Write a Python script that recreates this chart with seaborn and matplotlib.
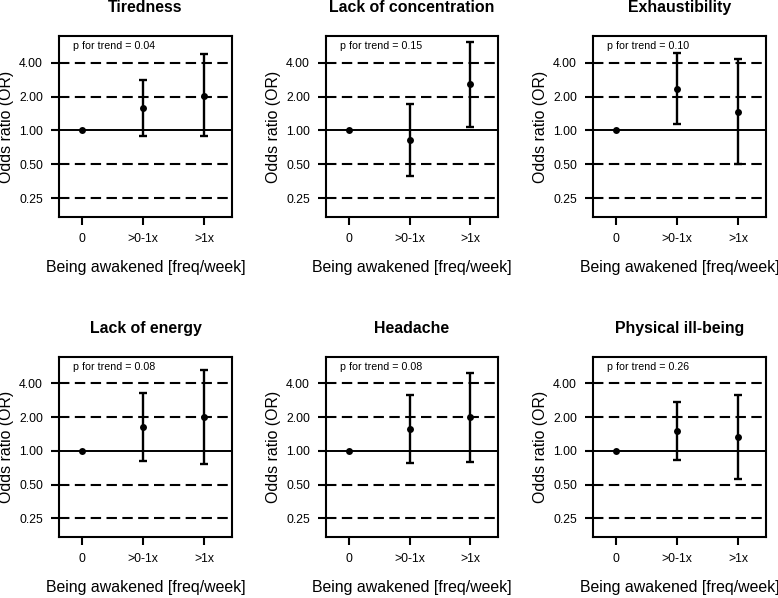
import numpy as np
import pandas as pd
import seaborn as sns
import matplotlib.pyplot as plt
from matplotlib.ticker import FixedLocator, FixedFormatter

categories = ['0', '>0-1x', '>1x']
outcomes = ['Tiredness', 'Lack of concentration', 'Exhaustibility',
            'Lack of energy', 'Headache', 'Physical ill-being']
p_trend = ['0.04', '0.15', '0.10', '0.08', '0.08', '0.26']

odds_ratio = {
    'Tiredness':             [1.0, 1.57, 2.04],
    'Lack of concentration': [1.0, 0.82, 2.57],
    'Exhaustibility':        [1.0, 2.34, 1.47],
    'Lack of energy':        [1.0, 1.63, 2.00],
    'Headache':              [1.0, 1.58, 1.99],
    'Physical ill-being':    [1.0, 1.51, 1.33],
}
ci_lower = {
    'Tiredness':             [1.0, 0.89, 0.89],
    'Lack of concentration': [1.0, 0.39, 1.08],
    'Exhaustibility':        [1.0, 1.15, 0.50],
    'Lack of energy':        [1.0, 0.82, 0.77],
    'Headache':              [1.0, 0.78, 0.80],
    'Physical ill-being':    [1.0, 0.83, 0.56],
}
ci_upper = {
    'Tiredness':             [1.0, 2.79, 4.73],
    'Lack of concentration': [1.0, 1.73, 6.10],
    'Exhaustibility':        [1.0, 4.88, 4.32],
    'Lack of energy':        [1.0, 3.26, 5.24],
    'Headache':              [1.0, 3.13, 4.93],
    'Physical ill-being':    [1.0, 2.71, 3.17],
}

y_ticks = [0.25, 0.5, 1.0, 2.0, 4.0]

sns.set_style('white')
plt.rcParams['font.family'] = ['Liberation Sans', 'DejaVu Sans']
plt.rcParams.update({'text.color': 'black', 'axes.labelcolor': 'black',
                     'xtick.color': 'black', 'ytick.color': 'black'})

W, H = 778, 598
fig = plt.figure(figsize=(W / 100, H / 100), dpi=100)

# axes boxes in pixels (left, right) per column and (top, bottom) per row
cols = [(59, 232), (326, 498), (593, 766)]
rows = [(36, 217), (357, 537)]

for i, name in enumerate(outcomes):
    r, c = divmod(i, 3)
    x0, x1 = cols[c]
    y0, y1 = rows[r]
    ax = fig.add_axes([x0 / W, 1 - y1 / H, (x1 - x0) / W, (y1 - y0) / H])

    df = pd.DataFrame({'freq': categories, 'OR': odds_ratio[name],
                       'lo': ci_lower[name], 'hi': ci_upper[name]})

    for v in y_ticks:
        if v == 1.0:
            ax.axhline(v, color='black', lw=1.4, zorder=1)
        else:
            ax.axhline(v, color='black', lw=1.5, ls=(0, (5.0, 2.6)), zorder=1)

    # reference category has no interval
    sub = df.iloc[1:]
    xs = np.arange(len(categories))[1:]
    ax.errorbar(xs, sub['OR'], yerr=[sub['OR'] - sub['lo'], sub['hi'] - sub['OR']],
                fmt='none', ecolor='black', elinewidth=1.7, capsize=2.8,
                capthick=1.7, zorder=3)
    sns.pointplot(data=df, x='freq', y='OR', order=categories, color='black',
                  linestyle='none', errorbar=None, markers='o', markersize=5,
                  markeredgewidth=0, ax=ax, zorder=4)

    ax.set_yscale('log', base=2)
    ax.set_ylim(0.17, 6.9)
    ax.yaxis.set_major_locator(FixedLocator(y_ticks))
    ax.yaxis.set_major_formatter(FixedFormatter([f'{v:.2f}' for v in y_ticks]))
    ax.yaxis.set_minor_locator(FixedLocator([]))
    ax.set_xlim(-0.377, 2.459)
    ax.set_xticks(range(len(categories)))
    ax.set_xticklabels(categories)

    for s in ax.spines.values():
        s.set_visible(True)
        s.set_color('black')
        s.set_linewidth(1.5)
    ax.tick_params(axis='both', which='major', direction='out', length=5.5,
                   width=1.5, color='black', labelsize=8.8, labelcolor='black',
                   left=True, bottom=True)
    ax.tick_params(axis='y', pad=6)
    ax.tick_params(axis='x', pad=6)

    ax.set_title(name, fontsize=11.4, fontweight='bold', pad=17)
    ax.set_xlabel('Being awakened [freq/week]', fontsize=11.4, labelpad=11)
    ax.set_ylabel('Odds ratio (OR)', fontsize=11.4, labelpad=4)
    ax.text(0.08, 0.945, f'p for trend = {p_trend[i]}', transform=ax.transAxes,
            fontsize=7.7, ha='left', va='center')

fig.savefig('out.png', dpi=100, facecolor='white')
